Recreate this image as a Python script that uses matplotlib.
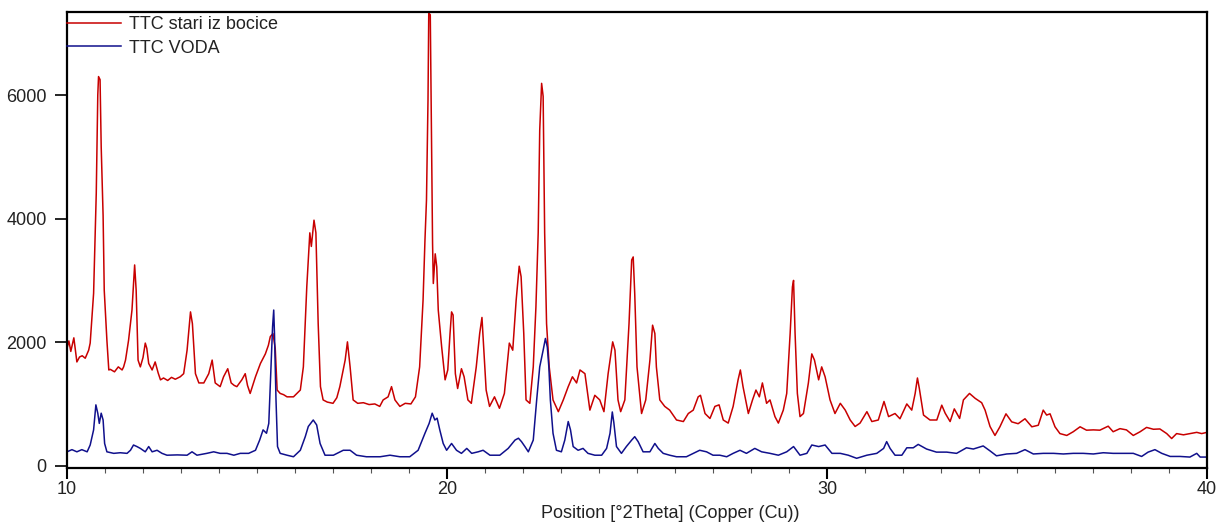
import matplotlib
matplotlib.use("Agg")
import matplotlib.pyplot as plt
from matplotlib.ticker import MultipleLocator, FixedLocator

plt.rcParams['font.family'] = ['Liberation Sans', 'DejaVu Sans']

# ---- data ----
series_labels = ["TTC stari iz bocice", "TTC VODA"]

red_x = [10.00, 10.05, 10.10, 10.18, 10.26, 10.33, 10.40, 10.48, 10.57, 10.61, 10.70, 10.77, 10.81, 10.83, 10.87,
         10.90, 10.95, 10.98, 11.05, 11.10, 11.14, 11.25, 11.35, 11.45, 11.49, 11.54, 11.62, 11.71, 11.78, 11.82,
         11.87, 11.93, 12.00, 12.06, 12.10, 12.15, 12.24, 12.32, 12.40, 12.46, 12.54, 12.65, 12.75, 12.85, 12.98,
         13.07, 13.16, 13.25, 13.30, 13.38, 13.47, 13.60, 13.73, 13.82, 13.90, 14.03, 14.12, 14.23, 14.32, 14.40,
         14.47, 14.60, 14.69, 14.75, 14.82, 14.96, 15.09, 15.22, 15.30, 15.35, 15.42, 15.48, 15.53, 15.61, 15.70,
         15.79, 15.96, 16.10, 16.14, 16.22, 16.31, 16.39, 16.43, 16.50, 16.55, 16.61, 16.67, 16.74, 16.85, 17.00,
         17.10, 17.18, 17.32, 17.38, 17.45, 17.53, 17.65, 17.80, 17.95, 18.10, 18.23, 18.32, 18.45, 18.54, 18.63,
         18.76, 18.90, 19.05, 19.17, 19.28, 19.37, 19.42, 19.46, 19.50, 19.52, 19.56, 19.59, 19.62, 19.64, 19.69,
         19.73, 19.77, 19.86, 19.95, 20.02, 20.08, 20.12, 20.16, 20.22, 20.28, 20.38, 20.45, 20.55, 20.64, 20.77,
         20.86, 20.92, 20.97, 21.03, 21.12, 21.25, 21.38, 21.51, 21.64, 21.73, 21.82, 21.90, 21.95, 22.02, 22.08,
         22.18, 22.27, 22.34, 22.40, 22.44, 22.49, 22.53, 22.57, 22.62, 22.69, 22.79, 22.93, 23.06, 23.19, 23.30,
         23.41, 23.50, 23.63, 23.76, 23.89, 24.02, 24.13, 24.24, 24.36, 24.42, 24.50, 24.57, 24.68, 24.79, 24.86,
         24.90, 24.94, 25.00, 25.12, 25.23, 25.34, 25.41, 25.47, 25.51, 25.60, 25.73, 25.86, 26.04, 26.22, 26.35,
         26.48, 26.61, 26.67, 26.79, 26.92, 27.05, 27.16, 27.27, 27.40, 27.53, 27.66, 27.72, 27.79, 27.93, 28.04,
         28.13, 28.22, 28.30, 28.41, 28.50, 28.63, 28.72, 28.85, 28.94, 29.03, 29.09, 29.12, 29.16, 29.22, 29.29,
         29.38, 29.51, 29.60, 29.67, 29.78, 29.86, 29.95, 30.08, 30.21, 30.35, 30.48, 30.61, 30.74, 30.87, 31.05,
         31.18, 31.35, 31.50, 31.62, 31.79, 31.92, 32.10, 32.23, 32.32, 32.38, 32.43, 32.54, 32.71, 32.89, 33.02,
         33.11, 33.24, 33.35, 33.49, 33.59, 33.75, 33.90, 34.07, 34.16, 34.29, 34.42, 34.55, 34.71, 34.86, 35.03,
         35.21, 35.39, 35.56, 35.69, 35.78, 35.87, 36.00, 36.13, 36.31, 36.48, 36.66, 36.83, 37.01, 37.18, 37.40,
         37.53, 37.71, 37.88, 38.06, 38.24, 38.41, 38.59, 38.76, 38.94, 39.07, 39.20, 39.38, 39.55, 39.73, 39.86,
         40.00]
red_y = [1900, 2020, 1850, 2070, 1680, 1760, 1780, 1740, 1870, 1985, 2790, 4410, 6000, 6300, 6250,
         5160, 4050, 2840, 2030, 1550, 1560, 1520, 1600, 1550, 1600, 1710, 2030, 2520, 3250, 2840,
         1710, 1600, 1750, 1985, 1900, 1655, 1550, 1680, 1500, 1390, 1420, 1380, 1430, 1400, 1440,
         1490, 1870, 2490, 2300, 1490, 1340, 1340, 1490, 1710, 1340, 1280, 1440, 1570, 1340, 1300,
         1280, 1390, 1490, 1300, 1170, 1440, 1655, 1810, 1950, 2090, 2140, 1900, 1225, 1170, 1150,
         1115, 1115, 1200, 1225, 1600, 2895, 3770, 3550, 3975, 3770, 2300, 1280, 1065, 1030, 1010,
         1100, 1280, 1710, 2005, 1600, 1065, 1010, 1020, 990, 1000, 960, 1065, 1115, 1280, 1065,
         960, 1010, 1000, 1115, 1600, 2680, 3650, 4300, 5920, 7330, 7300, 5520, 3600, 2950, 3430,
         3220, 2520, 1920, 1390, 1550, 2140, 2490, 2440, 1490, 1250, 1570, 1440, 1065, 1010, 1600,
         2140, 2400, 1870, 1225, 960, 1115, 930, 1170, 1985, 1870, 2680, 3230, 3060, 2140, 1065,
         1010, 1600, 2570, 3770, 5430, 6190, 5980, 3770, 2300, 1600, 1065, 875, 1065, 1280, 1440,
         1340, 1550, 1490, 900, 1140, 1065, 875, 1490, 2005, 1870, 1065, 875, 1065, 2300, 3330,
         3380, 2790, 1600, 845, 1065, 1710, 2275, 2140, 1600, 1065, 960, 900, 740, 715, 845,
         900, 1115, 1140, 845, 765, 960, 985, 740, 690, 960, 1390, 1550, 1280, 845, 1065,
         1225, 1115, 1340, 1010, 1065, 795, 690, 900, 1170, 2140, 2895, 3000, 2140, 1170, 795,
         845, 1340, 1810, 1710, 1390, 1600, 1440, 1065, 845, 1010, 900, 740, 635, 690, 875,
         715, 740, 1040, 795, 845, 760, 1000, 900, 1170, 1420, 1250, 820, 740, 740, 980,
         850, 715, 920, 765, 1065, 1170, 1090, 1020, 900, 635, 490, 630, 840, 710, 680,
         760, 630, 655, 900, 820, 840, 630, 520, 490, 550, 630, 575, 580, 575, 640,
         550, 600, 580, 490, 550, 620, 590, 595, 520, 440, 520, 500, 520, 540, 520,
         540]

blue_x = [10.00, 10.13, 10.26, 10.39, 10.53, 10.61, 10.70, 10.76, 10.81, 10.85, 10.90, 10.95, 10.99, 11.05, 11.23,
          11.40, 11.58, 11.67, 11.75, 11.84, 11.93, 12.06, 12.15, 12.24, 12.37, 12.50, 12.63, 12.90, 13.16, 13.29,
          13.42, 13.68, 13.86, 14.03, 14.21, 14.39, 14.56, 14.78, 14.96, 15.07, 15.16, 15.25, 15.31, 15.37, 15.41,
          15.44, 15.46, 15.50, 15.54, 15.61, 15.79, 15.96, 16.14, 16.27, 16.35, 16.48, 16.57, 16.66, 16.79, 17.01,
          17.27, 17.45, 17.62, 17.88, 18.24, 18.50, 18.76, 19.02, 19.24, 19.42, 19.53, 19.61, 19.68, 19.74, 19.81,
          19.90, 19.99, 20.12, 20.25, 20.38, 20.52, 20.65, 20.82, 20.95, 21.13, 21.39, 21.61, 21.79, 21.88, 21.96,
          22.05, 22.14, 22.27, 22.36, 22.44, 22.53, 22.59, 22.64, 22.68, 22.72, 22.79, 22.88, 23.01, 23.10, 23.19,
          23.25, 23.32, 23.45, 23.58, 23.71, 23.89, 24.07, 24.20, 24.29, 24.35, 24.39, 24.46, 24.59, 24.72, 24.86,
          24.94, 25.03, 25.16, 25.34, 25.47, 25.56, 25.69, 25.86, 26.04, 26.30, 26.48, 26.65, 26.83, 27.00, 27.18,
          27.36, 27.53, 27.71, 27.88, 28.10, 28.28, 28.50, 28.72, 28.94, 29.12, 29.29, 29.47, 29.60, 29.78, 29.95,
          30.13, 30.35, 30.56, 30.78, 31.05, 31.31, 31.49, 31.57, 31.66, 31.79, 31.97, 32.10, 32.27, 32.40, 32.62,
          32.88, 33.15, 33.41, 33.67, 33.85, 34.11, 34.29, 34.46, 34.73, 34.99, 35.21, 35.43, 35.69, 35.96, 36.22,
          36.48, 36.74, 37.01, 37.27, 37.53, 37.80, 38.06, 38.28, 38.45, 38.63, 38.81, 39.03, 39.29, 39.55, 39.73,
          39.82, 40.00]
blue_y = [225, 260, 225, 260, 225, 335, 580, 985, 850, 685, 850, 740, 360, 225, 200,
          210, 200, 250, 335, 310, 280, 225, 310, 225, 250, 200, 170, 175, 170, 225,
          170, 200, 225, 200, 200, 170, 200, 200, 250, 415, 580, 525, 685, 1600, 2250,
          2520, 2140, 1065, 310, 200, 170, 145, 250, 470, 635, 740, 660, 360, 170, 170,
          250, 250, 170, 145, 145, 170, 145, 145, 250, 525, 685, 850, 740, 770, 580,
          360, 250, 360, 250, 200, 280, 200, 225, 250, 170, 170, 280, 415, 445, 390,
          310, 225, 415, 1065, 1600, 1870, 2060, 1920, 1600, 1065, 525, 250, 225, 415, 715,
          580, 310, 250, 280, 200, 170, 170, 280, 525, 870, 700, 310, 200, 310, 415,
          470, 390, 225, 225, 360, 280, 200, 170, 145, 145, 200, 250, 225, 170, 170,
          145, 200, 250, 200, 280, 225, 200, 170, 225, 310, 170, 200, 335, 310, 335,
          200, 200, 170, 120, 170, 200, 280, 390, 280, 170, 170, 290, 290, 345, 270,
          220, 220, 200, 290, 270, 320, 240, 160, 190, 200, 260, 190, 200, 200, 190,
          200, 200, 190, 210, 200, 200, 200, 150, 220, 260, 200, 150, 150, 140, 200,
          140, 140]

x_major_ticks = [10, 20, 30, 40]
y_major_ticks = [0, 2000, 4000, 6000]
x_label = "Position [°2Theta] (Copper (Cu))"

# ---- figure ----
fig = plt.figure(figsize=(12.19, 5.27), dpi=100)
ax = fig.add_axes([67 / 1219, 1 - 467.5 / 527, (1207 - 67) / 1219, (467.5 - 11.7) / 527])

ax.plot(red_x, red_y, color="#C80000", lw=1.1, label=series_labels[0])
ax.plot(blue_x, blue_y, color="#10108C", lw=1.1, label=series_labels[1])

ax.set_xlim(10, 40)
ax.set_ylim(-29, 7350)

ax.xaxis.set_major_locator(FixedLocator(x_major_ticks))
ax.xaxis.set_minor_locator(MultipleLocator(1))
ax.yaxis.set_major_locator(FixedLocator(y_major_ticks))

ax.tick_params(axis="x", which="major", direction="out", length=8, width=1.5,
               labelsize=13, pad=2, colors="black", labelcolor="#222222")
ax.tick_params(axis="x", which="minor", direction="out", length=3.5, width=0.8, color="#555555")
ax.tick_params(axis="y", which="major", direction="out", length=8.5, width=1.2,
               labelsize=13, pad=6, colors="black", labelcolor="#222222")

for sp in ax.spines.values():
    sp.set_linewidth(1.6)
    sp.set_color("black")

ax.set_xlabel(x_label, fontsize=13, color="#222222")
ax.xaxis.label.set_va("center")
ax.xaxis.set_label_coords((670 - 67) / 1140, (467.5 - 513) / 455.8)

leg = ax.legend(loc="upper left", bbox_to_anchor=(0.0, 0.99), frameon=False, fontsize=13,
                handlelength=3.0, handletextpad=0.45, borderpad=0, borderaxespad=0,
                labelspacing=0.35)
for t in leg.get_texts():
    t.set_color("#222222")

fig.savefig("out.png", dpi=100, facecolor="white")
